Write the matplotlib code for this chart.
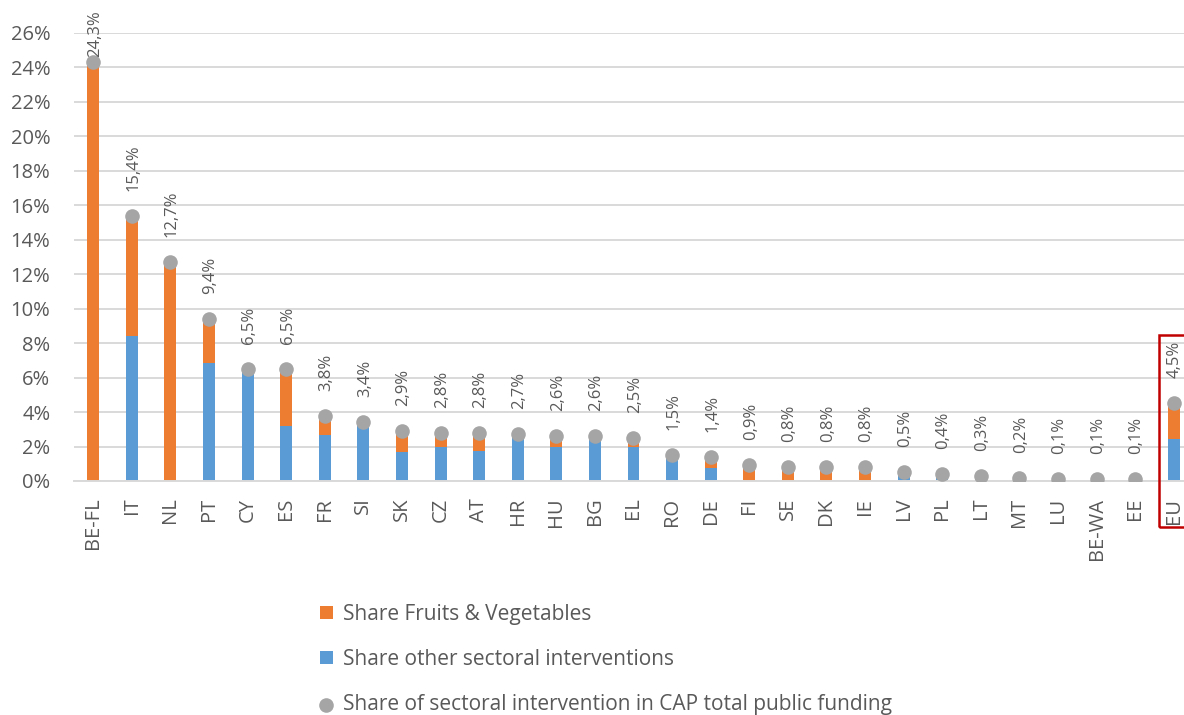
import matplotlib

matplotlib.use("agg")
import matplotlib.pyplot as plt
from matplotlib.patches import Rectangle
import numpy as np

plt.rcParams["font.family"] = ["Open Sans", "DejaVu Sans"]

# ------------------------------------------------------------------
# data (percent)
# ------------------------------------------------------------------
countries = ["BE-FL", "IT", "NL", "PT", "CY", "ES", "FR", "SI", "SK", "CZ",
             "AT", "HR", "HU", "BG", "EL", "RO", "DE", "FI", "SE", "DK",
             "IE", "LV", "PL", "LT", "MT", "LU", "BE-WA", "EE", "EU"]
share_other = [0.0, 8.4, 0.0, 6.84, 6.5, 3.2, 2.67, 3.4, 1.7, 1.96,
               1.74, 2.7, 1.96, 2.6, 1.96, 1.5, 0.74, 0.0, 0.0, 0.0,
               0.0, 0.5, 0.3, 0.2, 0.1, 0.1, 0.05, 0.05, 2.44]
share_fv = [24.3, 7.0, 12.7, 2.56, 0.0, 3.3, 1.13, 0.0, 1.2, 0.84,
            1.06, 0.0, 0.64, 0.0, 0.54, 0.0, 0.66, 0.9, 0.8, 0.8,
            0.8, 0.0, 0.1, 0.1, 0.1, 0.0, 0.05, 0.05, 2.06]
share_total = [24.3, 15.4, 12.7, 9.4, 6.5, 6.5, 3.8, 3.4, 2.9, 2.8,
               2.8, 2.7, 2.6, 2.6, 2.5, 1.5, 1.4, 0.9, 0.8, 0.8,
               0.8, 0.5, 0.4, 0.3, 0.2, 0.1, 0.1, 0.1, 4.5]
yticks = list(range(0, 27, 2))

ORANGE = "#ED7D31"
BLUE = "#5B9BD5"
GREY = "#A5A5A5"
TXT = "#595959"

W, H = 1184, 715
fig = plt.figure(figsize=(W / 100, H / 100), dpi=100)
# the plot area runs a bit past the right edge, as in the original
ax = fig.add_axes([74 / W, 1 - 481 / H, (1193 - 74) / W, (481 - 33) / H])

x = np.arange(len(countries))
b_other = ax.bar(x, share_other, width=0.31, color=BLUE, zorder=2)
b_fv = ax.bar(x, share_fv, width=0.31, bottom=share_other, color=ORANGE, zorder=2)
dots = ax.scatter(x, share_total, s=10.5 ** 2, color=GREY, zorder=3, linewidths=0)

for xi, v in zip(x, share_total):
    off = 4 if v > 20 else 18
    ax.annotate(f"{v:.1f}%".replace(".", ","), (xi, v), xytext=(1, off),
                textcoords="offset points", rotation=90, ha="center", va="bottom",
                fontsize=12, color=TXT, annotation_clip=False)

ax.set_xlim(-0.5, len(countries) - 0.5)
ax.set_ylim(0, 26)
ax.set_yticks(yticks)
ax.set_yticklabels([f"{t}%" for t in yticks], fontsize=14.5, color=TXT)
ax.set_xticks(x)
ax.set_xticklabels(countries, rotation=90, fontsize=14.5, color=TXT)
ax.tick_params(length=0)
ax.tick_params(axis="x", pad=12)
ax.tick_params(axis="y", pad=17)
ax.grid(axis="y", color="#D9D9D9", lw=1.4, zorder=0)
for s in ["top", "right", "left"]:
    ax.spines[s].set_visible(False)
ax.spines["bottom"].set_color("#D9D9D9")
ax.spines["bottom"].set_linewidth(1.4)

# red frame around EU
fig.patches.append(Rectangle((1159 / W, 1 - 527 / H), 40 / W, 192 / H,
                             transform=fig.transFigure, fill=False,
                             edgecolor="#C00000", lw=1.8))

fig.legend([b_fv, b_other, dots],
           ["Share Fruits & Vegetables", "Share other sectoral interventions",
            "Share of sectoral intervention in CAP total public funding"],
           loc="upper left", bbox_to_anchor=(320 / W, 1 - 604 / H),
           frameon=False, fontsize=15, labelcolor=TXT,
           handlelength=0.6, handleheight=0.6, handletextpad=0.5,
           labelspacing=1.15, borderpad=0, borderaxespad=0)

fig.savefig("out.png", dpi=100, facecolor="white")
